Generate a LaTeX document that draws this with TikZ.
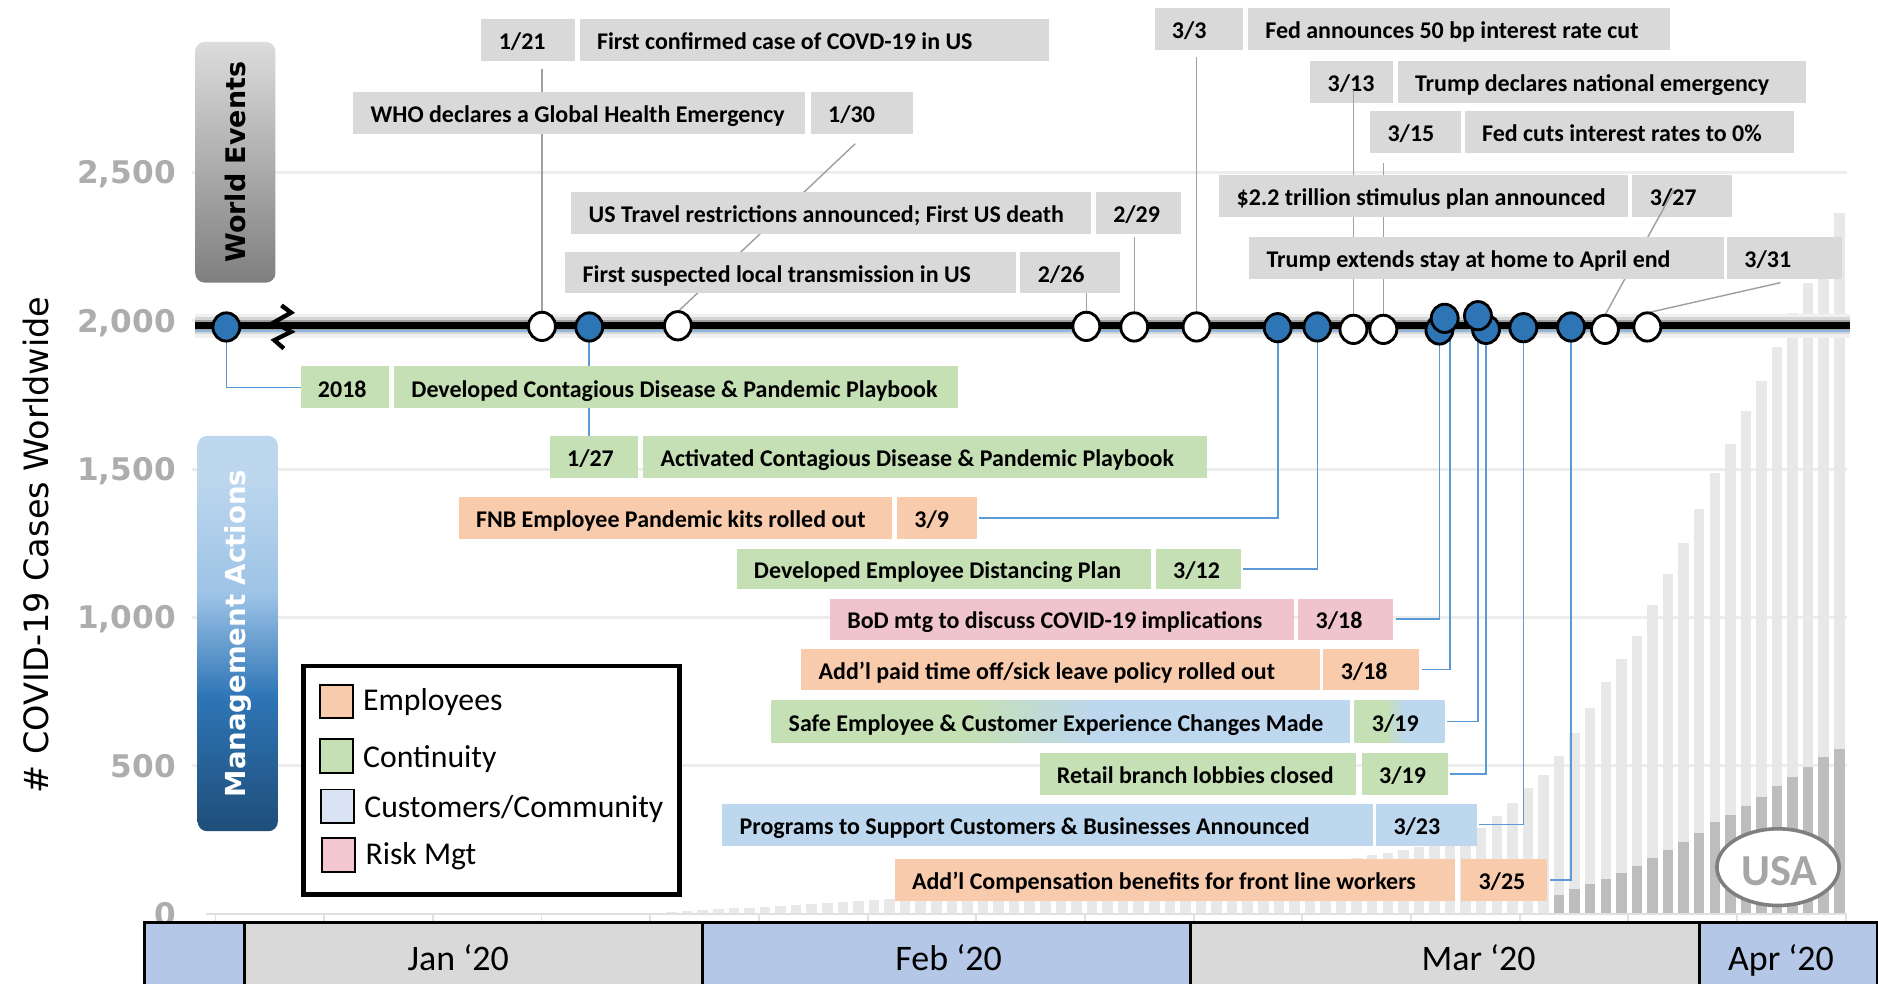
\documentclass[tikz,border=0pt]{standalone}
\usepackage{fontspec}
\setmainfont{Carlito}
\newfontfamily\dvs{DejaVu Sans}
\usetikzlibrary{calc,shapes.geometric}
\definecolor{evgray}{HTML}{D9D9D9}
\definecolor{cgreen}{HTML}{C5E0B4}
\definecolor{cpeach}{HTML}{F8CBAD}
\definecolor{cpink}{HTML}{F0C4CC}
\definecolor{cblue}{HTML}{BDD7EE}
\definecolor{lgblue}{HTML}{DAE3F3}
\definecolor{lgpink}{HTML}{F2C7CF}
\definecolor{monblue}{HTML}{B4C7E7}
\definecolor{mongray}{HTML}{D9D9D9}
\definecolor{dotblue}{HTML}{2E75B6}
\definecolor{connblue}{HTML}{5B9BD5}
\definecolor{conngray}{HTML}{A0A0A0}
\definecolor{ticklbl}{HTML}{ADADAD}
\definecolor{gridc}{HTML}{EDEDED}
\definecolor{axisc}{HTML}{E0E0E0}
\definecolor{lbar}{HTML}{E8E8E8}
\definecolor{dbar}{HTML}{BDBDBD}
\definecolor{wevtop}{HTML}{DCDCDC}
\definecolor{wevbot}{HTML}{7F7F7F}
\definecolor{maA}{HTML}{BDD7EE}
\definecolor{maB}{HTML}{9DC3E6}
\definecolor{maC}{HTML}{2E75B6}
\definecolor{maD}{HTML}{1F4E79}
\definecolor{usagray}{HTML}{7F7F7F}
\definecolor{usatext}{HTML}{A6A6A6}
\pgfdeclarelayer{bg}
\pgfdeclarelayer{conn}
\pgfdeclarelayer{connb}
\pgfdeclarelayer{boxb}
\pgfdeclarelayer{top}
\pgfsetlayers{bg,conn,main,connb,boxb,top}
\pgfdeclarehorizontalshading{gbshade}{100bp}{color(0bp)=(cgreen); color(25bp)=(cgreen); color(42bp)=(cgreen); color(53bp)=(cblue); color(75bp)=(cblue); color(100bp)=(cblue)}
\pgfdeclareverticalshading{mashade}{100bp}{color(0bp)=(maD); color(25bp)=(maD); color(42bp)=(maC); color(55bp)=(maB); color(70bp)=(maA); color(100bp)=(maA)}
\tikzset{
  bx/.style={inner sep=0pt, outer sep=0pt},
  lbl/.style={anchor=base west, xshift=14.5pt, yshift=-8pt, inner sep=0pt, outer sep=0pt, font=\bfseries\fontsize{20}{24}\selectfont},
  wdot/.style={ellipse, draw=black, line width=2.4pt, fill=white, minimum width=22.5pt, minimum height=23.6pt, inner sep=0pt, outer sep=0pt},
  bdot/.style={wdot, fill=dotblue},
  gconn/.style={draw=conngray, line width=1.2pt},
  bconn/.style={draw=connblue, line width=1.4pt},
  ticklab/.style={anchor=base east, text=ticklbl, font=\dvs\bfseries\fontsize{26}{30}\selectfont, inner sep=0pt},
  monbox/.style={draw=black, line width=2.5pt, anchor=north west, inner sep=0pt, minimum height=60pt},
  monlbl/.style={anchor=base, font=\fontsize{30}{36}\selectfont, inner sep=0pt},
  legsq/.style={draw=black, line width=1.5pt, anchor=north west, inner sep=0pt},
  legtxt/.style={anchor=base west, font=\fontsize{26.5}{32}\selectfont, inner sep=0pt},
}
\newcommand\evbx[7]{\node[bx,#2,minimum width=#5pt,minimum height=#6pt,anchor=north west,label={[lbl]west:{#7}}] (#1) at (#3,#4) {};}
\begin{document}
\begin{tikzpicture}[x=1pt,y=-1pt]
\useasboundingbox (0,0) rectangle (1568,821);
% ---------------- background: grid, bars, axis labels
\begin{pgfonlayer}{bg}
\fill[white] (0,0) rectangle (1568,821);
\foreach \yy in {144,268,392,515.5,639.5} \draw[gridc,line width=2.5pt] (160,\yy) -- (1542,\yy);
\foreach \t [count=\k from 0] in {178,210,236,261,290,318,343,370.6,395.3,425.1,453.2,479.4,505.3,530.6,550.5,569.8,590.9,612,631,646.7,658.1,670.8,681.6,691.3}
  \fill[lbar] ({1535.7-13*\k-4.4},762.5) rectangle ({1535.7-13*\k+4.4},\t);
\foreach \k in {24,...,75} {
  \pgfmathsetmacro\hh{\k<62 ? 63*exp(-(\k-24)*0.0445) : max(1,12-(\k-61)*0.8)}
  \fill[lbar] ({1535.7-13*\k-4.4},762.5) rectangle ({1535.7-13*\k+4.4},{762.5-\hh});
}
\foreach \t [count=\j from 0] in {747.0,741.9,737.7,733.5,728.6,723.2,716.6,709.4,703.3,695.8,686.4,680.1,673.2,665.4,656.3,649.1,640.0,632.2,625.6}
  \fill[dbar] ({1301.7+13*\j-4.4},762.5) rectangle ({1301.7+13*\j+4.4},\t);
\draw[axisc,line width=2pt] (172,763) -- (1542,763);
\foreach \i in {0,...,15} \draw[axisc,line width=1.5pt] ({180+90.73*\i},763) -- ({180+90.73*\i},770);
\node[ticklab] (t2500) at (147,153.5) {2,500};
\node[ticklab] (t2000) at (147,277.5) {2,000};
\node[ticklab] (t1500) at (147,401.5) {1,500};
\node[ticklab] (t1000) at (147,525) {1,000};
\node[ticklab] (t500) at (147,649) {500};
\node[ticklab] (t0) at (147,772.5) {0};
\node[rotate=90, font=\dvs\fontsize{28}{32}\selectfont] (ytitle) at (30,455) {\# COVID-19 Cases Worldwide};
\end{pgfonlayer}
% ---------------- timeline and dots
\begin{pgfonlayer}{top}
\draw[line width=20pt, black!6] (163,272) -- (1545,272);
\draw[line width=14pt, black!16] (163,272) -- (1545,272);
\draw[line width=9.5pt, black!38] (163,272) -- (1545,272);
\draw[connblue!70, line width=1pt] (163,276.3) -- (1545,276.3);
\draw[line width=5.6pt, black] (163,272) -- (1545,272);
\draw[line width=3.6pt, black, line join=miter] (235,255) -- (243,261) -- (229,269) -- (243,277) -- (229,284) -- (237,291);
\node[bdot] (b0) at (189,273) {};
\node[wdot] (w1) at (452.5,272.5) {};
\node[bdot] (b1) at (492,273) {};
\node[wdot] (w2) at (566,272) {};
\node[wdot] (w4) at (907,272.5) {};
\node[wdot] (w3) at (947,273) {};
\node[wdot] (w5) at (999,273) {};
\node[bdot] (b3) at (1066.8,273.6) {};
\node[bdot] (b4) at (1099.9,273) {};
\node[wdot] (w6) at (1130,275) {};
\node[wdot] (w7) at (1155,275) {};
\node[bdot] (b5) at (1201.8,275.5) {};
\node[bdot] (b6) at (1206.2,265.8) {};
\node[bdot] (b8) at (1240.7,275) {};
\node[bdot] (b7) at (1234,263.6) {};
\node[bdot] (b9) at (1271.9,273.6) {};
\node[bdot] (b10) at (1311.7,273) {};
\node[wdot] (w8) at (1340,275) {};
\node[wdot] (w9) at (1375.4,273) {};
\end{pgfonlayer}
% ---------------- side title boxes
\node[bx, rounded corners=8pt, top color=wevtop, bottom color=wevbot, minimum width=67pt, minimum height=201pt, anchor=north west] (we) at (163,35) {};
\node[rotate=90, font=\dvs\bfseries\fontsize{22.5}{26}\selectfont] (wet) at (we.center) {World Events};
\node[bx, rounded corners=8pt, shade, shading=mashade, minimum width=67pt, minimum height=330pt, anchor=north west] (ma) at (165,364) {};
\node[rotate=90, text=white, font=\dvs\bfseries\fontsize{23}{27}\selectfont] (mat) at (ma.center) {Management Actions};
% ---------------- world events
\evbx{e1d}{fill=evgray}{402}{16}{78}{35}{1/21}
\evbx{e1t}{fill=evgray}{484}{16}{392}{35}{First confirmed case of COVD-19 in US}
\evbx{e2t}{fill=evgray}{295}{77}{377}{35}{WHO declares a Global Health Emergency}
\evbx{e2d}{fill=evgray}{677}{77}{85}{35}{1/30}
\evbx{e3t}{fill=evgray}{477}{160}{434}{35}{US Travel restrictions announced; First US death}
\evbx{e3d}{fill=evgray}{915}{160}{71}{35}{2/29}
\evbx{e4t}{fill=evgray}{472}{210}{376}{35}{First suspected local transmission in US}
\evbx{e4d}{fill=evgray}{852}{210}{83}{35}{2/26}
\evbx{e5d}{fill=evgray}{964}{7}{74}{35}{3/3}
\evbx{e5t}{fill=evgray}{1042}{7}{352}{35}{Fed announces 50 bp interest rate cut}
\evbx{e6d}{fill=evgray}{1094}{51}{69}{35}{3/13}
\evbx{e6t}{fill=evgray}{1167}{51}{341}{35}{Trump declares national emergency}
\evbx{e7d}{fill=evgray}{1144}{93}{76}{35}{3/15}
\evbx{e7t}{fill=evgray}{1223}{93}{275}{35}{Fed cuts interest rates to 0\%}
\evbx{e8d}{fill=evgray}{1363}{146}{83}{35}{3/27}
\begin{pgfonlayer}{boxb}
\evbx{e8t}{fill=evgray}{1018}{146}{341}{35}{\$2.2 trillion stimulus plan announced}
\evbx{e9t}{fill=evgray}{1043}{198}{396}{35}{Trump extends stay at home to April end}
\evbx{e9d}{fill=evgray}{1442}{198}{96}{35}{3/31}
\end{pgfonlayer}
% ---------------- management actions
\evbx{m1d}{fill=cgreen}{251}{306}{74}{35}{2018}
\evbx{m1t}{fill=cgreen}{329}{306}{471}{35}{Developed Contagious Disease \& Pandemic Playbook}
\evbx{m2d}{fill=cgreen}{459}{364}{74}{35}{1/27}
\evbx{m2t}{fill=cgreen}{537}{364}{471}{35}{Activated Contagious Disease \& Pandemic Playbook}
\evbx{m3t}{fill=cpeach}{383}{415}{362}{35}{FNB Employee Pandemic kits rolled out}
\evbx{m3d}{fill=cpeach}{749}{415}{67}{35}{3/9}
\evbx{m4t}{fill=cgreen}{615}{458}{346}{34}{Developed Employee Distancing Plan}
\evbx{m4d}{fill=cgreen}{965}{458}{71}{34}{3/12}
\evbx{m5t}{fill=cpink}{693}{500}{387}{34}{BoD mtg to discuss COVID-19 implications}
\evbx{m5d}{fill=cpink}{1084}{500}{79}{34}{3/18}
\evbx{m6t}{fill=cpeach}{669}{542}{433}{34}{Add’l paid time off/sick leave policy rolled out}
\evbx{m6d}{fill=cpeach}{1105}{542}{80}{34}{3/18}
\evbx{m7t}{shade,shading=gbshade}{644}{585}{483}{35}{Safe Employee \& Customer Experience Changes Made}
\evbx{m7d}{shade,shading=gbshade}{1131}{585}{75}{35}{3/19}
\evbx{m8t}{fill=cgreen}{868}{629}{264}{34.5}{Retail branch lobbies closed}
\evbx{m8d}{fill=cgreen}{1137}{629}{72}{34.5}{3/19}
\evbx{m9t}{fill=cblue}{603}{671}{543}{35}{Programs to Support Customers \& Businesses Announced}
\evbx{m9d}{fill=cblue}{1149}{671}{84}{35}{3/23}
\evbx{m10t}{fill=cpeach}{747}{717}{468}{35}{Add’l Compensation benefits for front line workers}
\evbx{m10d}{fill=cpeach}{1220}{717}{72}{35}{3/25}
% ---------------- legend
\node[bx, draw=black, line width=4pt, fill=white, minimum width=314pt, minimum height=191pt, anchor=north west] (legend) at (253.6,556) {};
\node[legsq, fill=cpeach, minimum width=27.5pt, minimum height=28pt] (lgE) at (266.5,571) {};
\node[legsq, fill=cgreen, minimum width=27.5pt, minimum height=28pt] (lgC) at (266.5,616.5) {};
\node[legsq, fill=lgblue, minimum width=27.5pt, minimum height=28pt] (lgU) at (267.5,658.5) {};
\node[legsq, fill=lgpink, minimum width=27.5pt, minimum height=28pt] (lgR) at (268,699) {};
\node[legtxt] (lgEt) at (303,593) {Employees};
\node[legtxt] (lgCt) at (303,641) {Continuity};
\node[legtxt] (lgUt) at (304,682.5) {Customers/Community};
\node[legtxt] (lgRt) at (305,721.7) {Risk Mgt};
% ---------------- USA badge
\node[ellipse, draw=usagray, line width=3pt, fill=white, minimum width=102pt, minimum height=64pt, inner sep=0pt] (usa) at (1484.5,724) {};
\node[text=usatext, font=\bfseries\fontsize{37}{40}\selectfont, inner sep=0pt] (usat) at (1485.5,727) {USA};
% ---------------- month bar
\node[monbox, fill=monblue, minimum width=84pt] (mon0) at (119,769) {};
\node[monbox, fill=mongray, minimum width=382pt] (jan) at (203,769) {};
\node[monbox, fill=monblue, minimum width=408pt] (feb) at (585,769) {};
\node[monbox, fill=mongray, minimum width=425pt] (mar) at (993,769) {};
\node[monbox, fill=monblue, minimum width=148pt] (apr) at (1418,769) {};
\node[monlbl] (jant) at (382.6,810) {Jan ‘20};
\node[monlbl] (febt) at (792,810) {Feb ‘20};
\node[monlbl] (mart) at (1234.5,810) {Mar ‘20};
\node[monlbl] (aprt) at (1487,810) {Apr ‘20};
% ---------------- connectors
\begin{pgfonlayer}{conn}
\draw[gconn] ($(w1 |- e1d.south)+(0,7)$) -- (w1.north);
\draw[gconn] ($(e2d.south)+(-5.5,8)$) -- (w2.north);
\draw[gconn] ($(w3 |- e3d.south)+(0,3)$) -- (w3.north);
\draw[gconn] (w4 |- e4d.south) -- (w4.north);
\draw[gconn] ($(w5 |- e5d.south)+(0,6)$) -- (w5.north);
\draw[gconn] ($(w7 |- e7d.south)+(0,8)$) -- (w7.north);
\draw[gconn] ($(e9d.south)+(-3.5,3)$) -- (w9.north);
\draw[bconn] (b0.center) |- (m1d.west);
\draw[bconn] (b1.center) -- (b1.center |- m2d.north);
\draw[bconn] (b3.center) |- ([xshift=1.5pt]m3d.east);
\draw[bconn] (b4.center) |- ([xshift=1.5pt]m4d.east);
\draw[bconn] (b5.center) |- ([xshift=2.5pt]m5d.east);
\draw[bconn] ([xshift=4.5pt]b6.center) |- ([xshift=2pt]m6d.east);
\draw[bconn] (b7.center) |- ([xshift=2pt]m7d.east);
\draw[bconn] (b8.center) |- ([xshift=2pt]m8d.east);
\draw[bconn] (b9.center) |- ([xshift=2pt]m9d.east);
\draw[bconn] (b10.center) |- ([xshift=2pt]m10d.east);
\end{pgfonlayer}
\begin{pgfonlayer}{connb}
\draw[gconn] ($(w6 |- e6d.center)+(0,7)$) -- (w6.north);
\draw[gconn] ($(e8d.center)+(-7,-5)$) -- (w8.north);
\end{pgfonlayer}
\end{tikzpicture}
\end{document}
